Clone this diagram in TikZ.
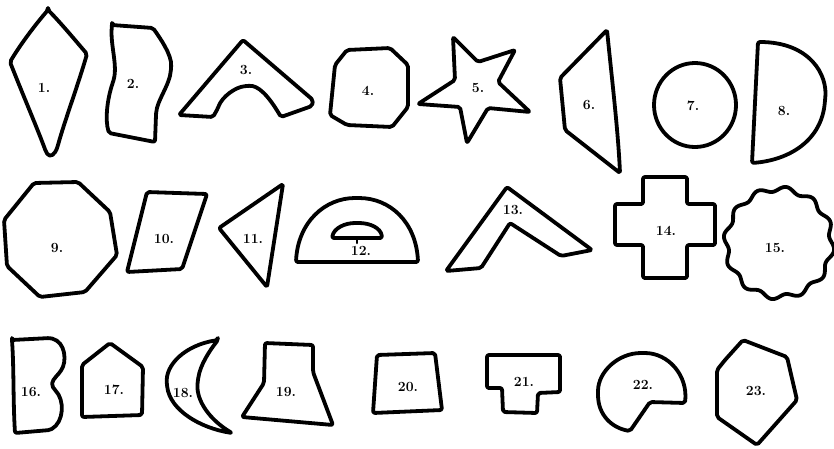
\documentclass[tikz,border=0pt]{standalone}
\begin{document}
\begin{tikzpicture}[x=1pt,y=-1pt,
  shp/.style={draw=black,line width=3.8pt,line join=round,line cap=round,rounded corners=2pt},
  lbl/.style={font=\fontsize{14}{14}\selectfont\bfseries,inner sep=0pt}]
\useasboundingbox (0,0) rectangle (834,448);
% 1
\draw[shp] (48,10) .. controls (60,22) and (75,40) .. (87,54) .. controls (78,85) and (65,120) .. (58,145) .. controls (55,155) and (50,158) .. (46,152) .. controls (38,130) and (25,100) .. (10,62) .. controls (20,45) and (35,25) .. (48,10) -- cycle;
\node[lbl] (l1) at (44,88) {1.};
% 2
\draw[shp] (112,25) -- (153,28) .. controls (160,38) and (172,55) .. (171,68) .. controls (170,85) and (157,100) .. (156,115) -- (155,142) -- (109,133) .. controls (105,120) and (107,100) .. (113,82) .. controls (118,65) and (110,45) .. (112,25) -- cycle;
\node[lbl] (l2) at (133,84) {2.};
% 3
\draw[shp] (243,40) -- (313,100) -- (312,106) -- (281,117) .. controls (268,95) and (258,85) .. (247,86) .. controls (235,87) and (222,97) .. (218,108) -- (213,117) -- (179,115) -- cycle;
\node[lbl] (l3) at (246,70) {3.};
% 4
\draw[shp] (347,50) -- (390,48) -- (408,65) -- (408,107) -- (392,127) -- (347,125) -- (330,115) -- (335,65) -- cycle;
\node[lbl] (l4) at (368,91) {4.};
% 5
\draw[shp] (453,37) -- (478,62) -- (515,50) -- (498,82) -- (530,112) -- (488,108) -- (467,143) -- (460,107) -- (418,104) -- (455,80) -- cycle;
\node[lbl] (l5) at (478,88) {5.};
% 6
\draw[shp] (607,30) .. controls (612,80) and (618,130) .. (620,173) -- (565,130) -- (560,78) -- cycle;
\node[lbl] (l6) at (589,105) {6.};
% 7
\draw[shp] (695,105) ellipse[x radius=41,y radius=42];
\node[lbl] (l7) at (693,106) {7.};
% 8
\draw[shp] (758,42) .. controls (810,42) and (828,75) .. (825,100) .. controls (822,140) and (790,160) .. (752,163) -- cycle;
\node[lbl] (l8) at (784,111) {8.};
% 9
\draw[shp] (34,183) -- (78,182) -- (110,212) -- (117,255) -- (85,292) -- (40,297) -- (7,266) -- (4,220) -- cycle;
\node[lbl] (l9) at (57,248) {9.};
% 10
\draw[shp] (147,192) -- (207,194) -- (182,269) -- (127,272) -- cycle;
\node[lbl] (l10) at (164,239) {10.};
% 11
\draw[shp] (283,184) -- (267,287) -- (219,228) -- cycle;
\node[lbl] (l11) at (253,239) {11.};
% 12
\draw[shp] (296,262) .. controls (298,222) and (325,198) .. (357,198) .. controls (390,198) and (416,222) .. (418,262) -- cycle;
\draw[shp] (332,238) .. controls (334,228) and (345,223) .. (357,223) .. controls (370,223) and (381,228) .. (382,238) -- cycle;
\draw[shp,line width=2.5pt] (357,239) -- (357,243);
\node[lbl] (l12) at (361,251) {12.};
% 13
\draw[shp] (507,187) -- (592,250) -- (561,256) -- (510,223) -- (481,268) -- (446,271) -- cycle;
\node[lbl] (l13) at (513,210) {13.};
% 14
\draw[shp] (643,177) -- (687,177) -- (687,204) -- (715,204) -- (715,245) -- (687,245) -- (687,278) -- (643,278) -- (643,245) -- (615,245) -- (615,204) -- (643,204) -- cycle;
\node[lbl] (l14) at (666,231) {14.};
% 15
\draw[shp,rounded corners=0pt] plot[domain=0:360,samples=240,smooth] ({779+cos(\x)*(53+2.5*sin(12*\x))},{243+sin(\x)*(54+2.5*sin(12*\x))}) -- cycle;
\node[lbl] (l15) at (775,248) {15.};
% 16
\draw[shp] (12,340) -- (50,338) .. controls (66,342) and (67,362) .. (60,372) .. controls (55,378) and (50,382) .. (54,389) .. controls (65,400) and (64,422) .. (50,430) -- (15,433) .. controls (13,400) and (14,370) .. (12,340) -- cycle;
\node[lbl] (l16) at (31,392) {16.};
% 17
\draw[shp] (110,343) -- (143,367) -- (142,415) -- (82,417) -- (82,365) -- cycle;
\node[lbl] (l17) at (114,390) {17.};
% 18
\draw[shp] (218,340) .. controls (185,345) and (165,365) .. (167,385) .. controls (170,410) and (200,428) .. (232,433) .. controls (210,420) and (195,400) .. (198,380) .. controls (200,365) and (210,350) .. (218,340) -- cycle;
\node[lbl] (l18) at (183,393) {18.};
% 19
\draw[shp] (265,343) -- (313,345) -- (313,372) -- (333,425) -- (242,417) -- (264,383) -- cycle;
\node[lbl] (l19) at (286,392) {19.};
% 20
\draw[shp] (377,355) -- (435,353) -- (442,410) -- (373,413) -- cycle;
\node[lbl] (l20) at (408,387) {20.};
% 21
\draw[shp] (487,355) -- (560,355) -- (560,392) -- (538,393) -- (537,413) -- (503,412) -- (502,388) -- (487,388) -- cycle;
\node[lbl] (l21) at (524,382) {21.};
% 22
\draw[shp] (685,403) .. controls (688,375) and (668,353) .. (643,353) .. controls (618,353) and (598,372) .. (598,393) .. controls (598,415) and (612,428) .. (630,431) -- (650,402) -- cycle;
\node[lbl] (l22) at (643,385) {22.};
% 23
\draw[shp] (743,340) -- (787,357) -- (797,400) -- (757,445) -- (717,417) -- (717,370) -- (725,360) -- cycle;
\node[lbl] (l23) at (756,391) {23.};
\end{tikzpicture}
\end{document}
